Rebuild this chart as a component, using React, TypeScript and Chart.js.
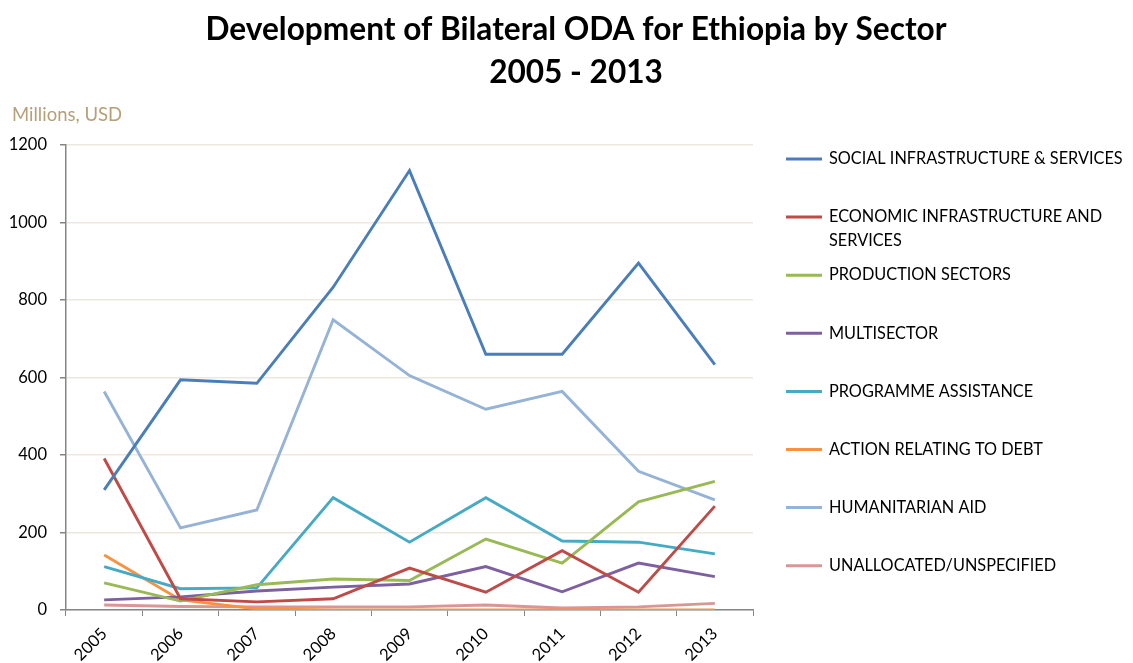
import { useEffect, useRef } from 'react';
import { Chart, registerables } from 'chart.js';

Chart.register(...registerables);

const TITLE_LINES = ['Development of Bilateral ODA for Ethiopia by Sector', '2005 - 2013'];
const UNIT_LABEL = 'Millions, USD';

const YEARS = ['2005', '2006', '2007', '2008', '2009', '2010', '2011', '2012', '2013'];

const SOCIAL = [310, 594, 585, 833, 1134, 660, 660, 895, 633];
const ECONOMIC = [391, 29, 21, 29, 108, 46, 153, 46, 268];
const PRODUCTION = [70, 23, 65, 80, 76, 183, 121, 279, 332];
const MULTISECTOR = [26, 34, 49, 59, 67, 112, 47, 121, 86];
const PROGRAMME = [112, 55, 57, 290, 175, 290, 178, 175, 145];
const DEBT = [142, 26, 3, 0, 0, 0, 0, 0, 0];
const HUMANITARIAN = [564, 212, 258, 749, 605, 518, 564, 358, 284];
const UNALLOCATED = [13, 9, 8, 8, 8, 13, 5, 8, 17];

const SERIES_NAMES = [
  'SOCIAL INFRASTRUCTURE & SERVICES',
  'ECONOMIC INFRASTRUCTURE AND SERVICES',
  'PRODUCTION SECTORS',
  'MULTISECTOR',
  'PROGRAMME ASSISTANCE',
  'ACTION RELATING TO DEBT',
  'HUMANITARIAN AID',
  'UNALLOCATED/UNSPECIFIED',
];
const SERIES_VALUES = [SOCIAL, ECONOMIC, PRODUCTION, MULTISECTOR, PROGRAMME, DEBT, HUMANITARIAN, UNALLOCATED];
const SERIES_COLORS = ['#4A7EBB', '#BE4B48', '#98B954', '#7D60A0', '#46AAC5', '#F69240', '#95B3D7', '#D99694'];

const Y_MIN = 0;
const Y_MAX = 1200;
const Y_STEP = 200;

const FONT = 'Lato, "Open Sans", sans-serif';

// Wraps a legend caption into lines no wider than maxWidth.
function wrapText(ctx: CanvasRenderingContext2D, text: string, maxWidth: number): string[] {
  const words = text.split(' ');
  const lines: string[] = [];
  let current = '';
  for (const w of words) {
    const trial = current ? current + ' ' + w : w;
    if (current && ctx.measureText(trial).width > maxWidth) {
      lines.push(current);
      current = w;
    } else {
      current = trial;
    }
  }
  if (current) lines.push(current);
  return lines;
}

// Draws the title, unit caption and the right-hand legend.
const decorPlugin = {
  id: 'odaDecor',
  afterDraw(chart: any) {
    const { ctx, chartArea } = chart;
    ctx.save();
    ctx.fillStyle = '#000';
    ctx.textAlign = 'center';
    ctx.textBaseline = 'alphabetic';
    ctx.font = `bold 31.6px ${FONT}`;
    ctx.fillText(TITLE_LINES[0], 576, 40);
    ctx.fillText(TITLE_LINES[1], 576, 83);

    ctx.textAlign = 'left';
    ctx.font = `18.5px ${FONT}`;
    ctx.fillStyle = '#B5A07A';
    ctx.fillText(UNIT_LABEL, 12, 121);

    const lineX0 = chartArea.right + 33;
    const lineX1 = lineX0 + 36;
    const textX = lineX1 + 7;
    ctx.font = `16.3px ${FONT}`;
    ctx.textBaseline = 'middle';
    chart.data.datasets.forEach((ds: any, i: number) => {
      const y = 159 + i * 58.1;
      ctx.strokeStyle = ds.borderColor;
      ctx.lineWidth = 3;
      ctx.beginPath();
      ctx.moveTo(lineX0, y);
      ctx.lineTo(lineX1, y);
      ctx.stroke();
      ctx.fillStyle = '#000';
      const lines = wrapText(ctx, ds.label, 1133 - textX - 2);
      lines.forEach((ln, k) => ctx.fillText(ln, textX, y + k * 24));
    });
    ctx.restore();
  },
};

export default function App() {
  const canvasRef = useRef<HTMLCanvasElement | null>(null);

  useEffect(() => {
    if (!canvasRef.current) return;
    const chart = new Chart(canvasRef.current, {
      type: 'line',
      data: {
        labels: YEARS,
        datasets: SERIES_NAMES.map((name, i) => ({
          label: name,
          data: SERIES_VALUES[i],
          borderColor: SERIES_COLORS[i],
          backgroundColor: SERIES_COLORS[i],
          borderWidth: 2.9,
          pointRadius: 0,
          tension: 0,
          fill: false,
        })),
      },
      options: {
        responsive: false,
        animation: false,
        layout: { padding: { top: 145, right: 380, left: 0, bottom: 0 } },
        plugins: {
          legend: { display: false },
          title: { display: false },
          tooltip: { enabled: false },
        },
        scales: {
          x: {
            offset: true,
            grid: {
              offset: true,
              drawOnChartArea: false,
              drawTicks: true,
              tickLength: 6,
              tickColor: '#868686',
            },
            border: { display: true, color: '#868686', width: 1.5 },
            ticks: {
              color: '#000',
              font: { family: FONT, size: 16.5 },
              maxRotation: 45,
              minRotation: 45,
              padding: 8,
            },
            afterFit(scale: any) {
              scale.height = 53;
            },
          },
          y: {
            min: Y_MIN,
            max: Y_MAX,
            ticks: {
              stepSize: Y_STEP,
              color: '#000',
              font: { family: FONT, size: 16.5 },
              padding: 13,
              callback: (value: any) => String(value),
            },
            grid: {
              color: '#EBE9DD',
              lineWidth: 1.5,
              tickLength: 6,
              tickColor: '#868686',
            },
            border: { display: true, color: '#868686', width: 1.5 },
            afterFit(scale: any) {
              scale.width = 66;
            },
          },
        },
      },
      plugins: [decorPlugin],
    });
    return () => chart.destroy();
  }, []);

  return (
    <div style={{ position: 'absolute', left: 0, top: 0, width: 1133, height: 663, background: '#fff' }}>
      <canvas ref={canvasRef} width={1133} height={663} style={{ display: 'block' }} />
    </div>
  );
}
